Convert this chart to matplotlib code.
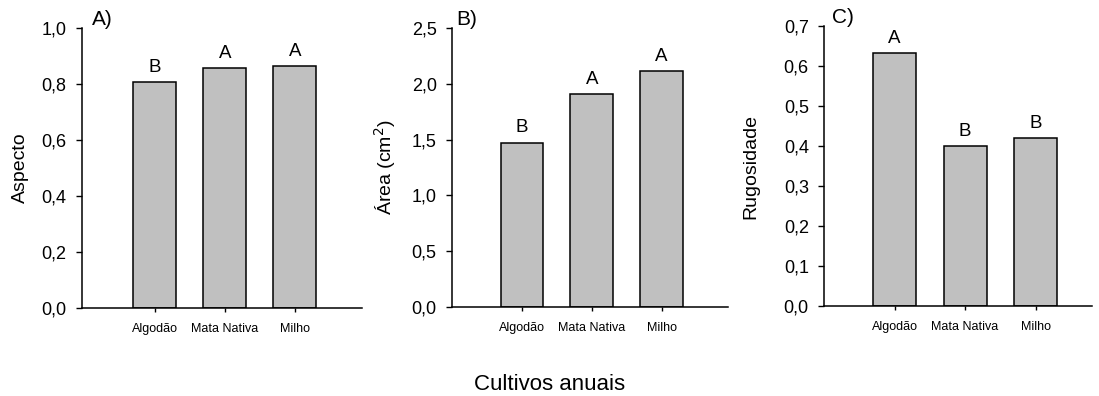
import matplotlib
matplotlib.use('Agg')
import matplotlib.pyplot as plt

plt.rcParams['font.family'] = ['Liberation Sans', 'DejaVu Sans']

cultivos = ['Algodão', 'Mata Nativa', 'Milho']

aspecto = [0.808, 0.857, 0.865]
aspecto_letras = ['B', 'A', 'A']

area = [1.472, 1.909, 2.115]
area_letras = ['B', 'A', 'A']

rugosidade = [0.632, 0.400, 0.419]
rugosidade_letras = ['A', 'B', 'B']

fig = plt.figure(figsize=(10.99, 3.96), dpi=100)

paineis = [
    # (posicao, valores, letras, ylabel, ylim, passo, titulo, xlim, x do ylabel, x do titulo)
    ([0.0746, 0.2222, 0.2548, 0.7071], aspecto, aspecto_letras, 'Aspecto',
     (0, 1.0), 0.2, 'A)', (-1.04, 2.96), -0.19, 0.035),
    ([0.4113, 0.2247, 0.2511, 0.7046], area, area_letras, 'Área (cm$^2$)',
     (0, 2.5), 0.5, 'B)', (-1.0, 2.95), -0.195, 0.015),
    ([0.7498, 0.2273, 0.2438, 0.7070], rugosidade, rugosidade_letras, 'Rugosidade',
     (0, 0.7), 0.1, 'C)', (-1.0, 2.8), -0.24, 0.029),
]

for pos, valores, letras, ylabel, ylim, passo, titulo, xlim, xlab, xtit in paineis:
    ax = fig.add_axes(pos)
    x = range(len(cultivos))
    ax.bar(x, valores, width=0.61, color='#c0c0c0', edgecolor='black', linewidth=1.1)
    for xi, v, l in zip(x, valores, letras):
        ax.annotate(l, (xi, v), xytext=(0, 4.5), textcoords='offset points',
                    ha='center', va='bottom', fontsize=13.5)
    ax.set_xlim(*xlim)
    ax.set_ylim(*ylim)
    n = int(round(ylim[1] / passo))
    ticks = [i * passo for i in range(n + 1)]
    ax.set_yticks(ticks)
    ax.set_yticklabels([f'{t:.1f}'.replace('.', ',') for t in ticks], fontsize=13)
    ax.set_xticks(list(x))
    ax.set_xticklabels(cultivos, fontsize=9)
    ax.tick_params(axis='y', direction='out', length=4, width=1, pad=7)
    ax.tick_params(axis='x', direction='out', length=3, width=1, pad=8)
    ax.spines['top'].set_visible(False)
    ax.spines['right'].set_visible(False)
    ax.spines['left'].set_linewidth(1.1)
    ax.spines['bottom'].set_linewidth(1.1)
    ax.set_ylabel(ylabel, fontsize=14)
    ax.yaxis.set_label_coords(xlab, 0.5)
    ax.text(xtit, 0.995, titulo, transform=ax.transAxes, fontsize=15,
            ha='left', va='bottom')

fig.text(0.5, 0.03, 'Cultivos anuais', ha='center', va='center', fontsize=16)

fig.savefig('out.png', dpi=100)
